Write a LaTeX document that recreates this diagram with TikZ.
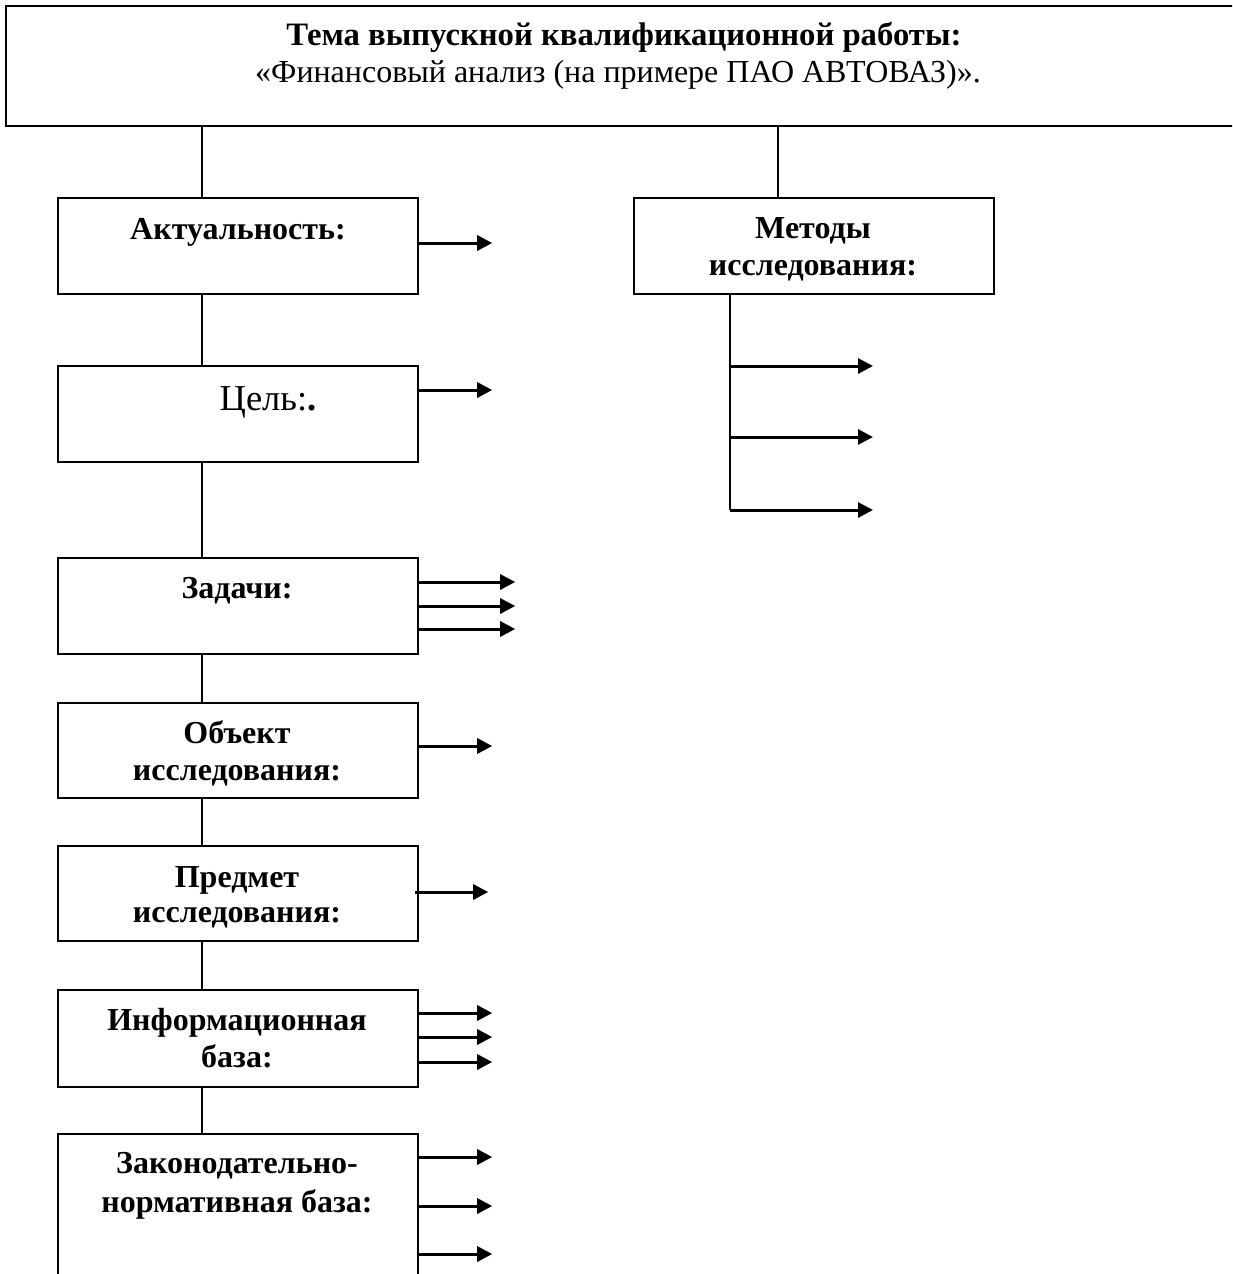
\documentclass[tikz,border=0pt]{standalone}
\usepackage{fontspec}
\setmainfont{Liberation Serif}
\usetikzlibrary{arrows.meta}
\begin{document}
\begin{tikzpicture}[x=1pt,y=-1pt,
  box/.style={draw,line width=2.2pt,rectangle,minimum width=360pt,minimum height=96pt,anchor=north west,inner sep=0pt},
  conn/.style={line width=1.7pt},
  arr/.style={line width=3pt,-{Triangle[length=15pt,width=15pt]}},
  lbl/.style={font=\fontsize{32}{37}\selectfont\bfseries,inner sep=0pt,anchor=base},
  lblr/.style={font=\fontsize{32}{37}\selectfont,inner sep=0pt,anchor=base}]
\clip (0,0) rectangle (1232,1274);
\fill[white] (0,0) rectangle (1232,1274);
% boxes
\node[box,minimum width=1245pt,minimum height=120pt] (top) at (5,5) {};
\node[box] (akt) at (57,197) {};
\node[box] (met) at (633,197) {};
\node[box] (cel) at (57,365) {};
\node[box] (zad) at (57,557) {};
\node[box,minimum height=95pt] (obj) at (57,702) {};
\node[box,minimum height=95pt] (pred) at (57,845) {};
\node[box,minimum height=97pt] (inf) at (57,989) {};
\node[box,minimum height=200pt] (zak) at (57,1133) {};
% labels
\node[lbl,font=\fontsize{32.7}{37}\selectfont\bfseries] (t1) at (624,45) {Тема выпускной квалификационной работы:};
\node[lblr] (t2) at (618,82) {«Финансовый анализ (на примере ПАО АВТОВАЗ)».};
\node[lbl] (l1) at (238,239) {Актуальность:};
\node[lbl] (m1) at (813,238) {Методы};
\node[lbl] (m2) at (813,275) {исследования:};
\node[inner sep=0pt,anchor=base,font=\fontsize{36.5}{40}\selectfont] (c1) at (268,410) {Цель:\textbf{.}};
\node[lbl] (z1) at (237,598) {Задачи:};
\node[lbl] (o1) at (237,743) {Объект};
\node[lbl] (o2) at (237,780) {исследования:};
\node[lbl] (p1) at (237,887) {Предмет};
\node[lbl] (p2) at (237,922) {исследования:};
\node[lbl] (i1) at (237,1030) {Информационная};
\node[lbl] (i2) at (237,1067) {база:};
\node[lbl] (g1) at (237,1173) {Законодательно-};
\node[lbl] (g2) at (237,1212) {нормативная база:};
% trunk connectors
\draw[conn] ([xshift=145pt]akt.north west) -- ([xshift=145pt]akt.north west |- top.south);
\draw[conn] ([xshift=145pt]met.north west) -- ([xshift=145pt]met.north west |- top.south);
\draw[conn] ([xshift=145pt]akt.south west) -- ([xshift=145pt]cel.north west);
\draw[conn] ([xshift=145pt]cel.south west) -- ([xshift=145pt]zad.north west);
\draw[conn] ([xshift=145pt]zad.south west) -- ([xshift=145pt]obj.north west);
\draw[conn] ([xshift=145pt]obj.south west) -- ([xshift=145pt]pred.north west);
\draw[conn] ([xshift=145pt]pred.south west) -- ([xshift=145pt]inf.north west);
\draw[conn] ([xshift=145pt]inf.south west) -- ([xshift=145pt]zak.north west);
% methods branch
\coordinate (mb1) at (730,366);
\coordinate (mb2) at (730,437);
\coordinate (mb3) at (730,510);
\draw[line width=2.2pt] ([xshift=97pt]met.south west) -- (mb3);
\draw[arr] (mb1) -- +(143,0);
\draw[arr] (mb2) -- +(143,0);
\draw[arr] (mb3) -- +(143,0);
% arrows from boxes
\draw[arr] ([yshift=-46pt]akt.north east) -- +(73,0);
\draw[arr] ([yshift=-25pt]cel.north east) -- +(73,0);
\draw[arr] ([yshift=-25pt]zad.north east) -- +(96,0);
\draw[arr] ([yshift=-49pt]zad.north east) -- +(96,0);
\draw[arr] ([yshift=-72pt]zad.north east) -- +(96,0);
\draw[arr] ([yshift=-44pt]obj.north east) -- +(73,0);
\draw[arr] ([yshift=-47pt,xshift=-4pt]pred.north east) -- +(73,0);
\draw[arr] ([yshift=-24pt]inf.north east) -- +(73,0);
\draw[arr] ([yshift=-48pt]inf.north east) -- +(73,0);
\draw[arr] ([yshift=-73pt]inf.north east) -- +(73,0);
\draw[arr] ([yshift=-24pt]zak.north east) -- +(73,0);
\draw[arr] ([yshift=-73pt]zak.north east) -- +(73,0);
\draw[arr] ([yshift=-121pt]zak.north east) -- +(73,0);
\end{tikzpicture}
\end{document}
